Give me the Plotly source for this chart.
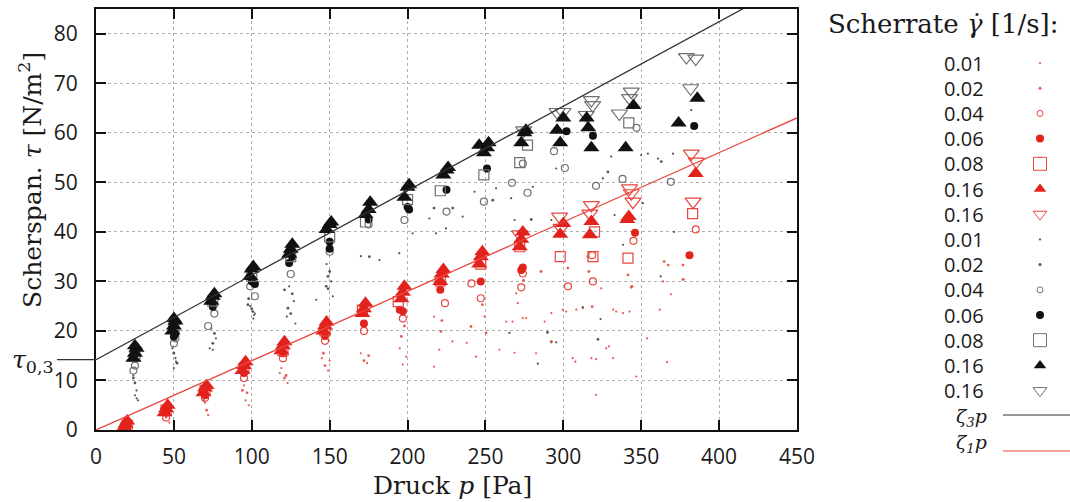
import plotly.graph_objects as go

W, H = 1070, 502
PL, PR, PT, PB = 96, 797, 9, 430          # plot box in pixels
X_MAX, Y_MAX = 450, 85

# fit lines
TAU03 = 14.2      # intercept layer 3
ZETA3 = 0.1706    # slope layer 3
ZETA1 = 0.14      # slope layer 1

x_ticks = [0, 50, 100, 150, 200, 250, 300, 350, 400, 450]
y_ticks = [0, 10, 20, 30, 40, 50, 60, 70, 80]

# ---------------- red (layer 1) ----------------
r001_x = [45, 47, 70, 72, 95, 96, 98, 118, 123, 119, 145, 149, 150, 170, 174, 197, 199, 195, 217, 220.4, 217, 228.8,
          238, 244, 249.4, 259, 263.3, 267.4, 268.7, 269.7, 270.8, 274, 276.2, 282.5, 288, 292.3, 299.7, 301.8, 306,
          307.7, 308.3, 312.5, 318, 321, 321, 324.3, 327.5, 329.3, 332, 332, 333.9, 338.3, 342.5, 346.8, 353.7, 361.9,
          364, 369, 366.6, 377.2]
r001_y = [2.5, 1.5, 5.5, 3.0, 9.0, 6.0, 5.0, 11.5, 9.5, 12.5, 14.5, 12.0, 14.0, 15.5, 13.5, 13.2, 14.8, 16.5, 22.9, 16.2,
          12.8, 17.9, 17.6, 14.8, 22.9, 16.2, 21.9, 21.9, 15.6, 27.6, 25.6, 22.6, 22.6, 15.5, 21.9, 23.6, 24.3, 23.9,
          14.5, 13.8, 24.3, 24.6, 14.5, 14.3, 7.1, 28.6, 16.5, 16.9, 14.5, 24.3, 23.9, 23.6, 23.9, 10.8, 18.5, 24.3,
          30.0, 27.4, 13.7, 30.4]
r002_x = [46, 69, 71, 94, 97, 121, 122, 146, 147, 172, 175, 196, 198, 222, 221.5, 240.7, 248, 250.4, 274.4, 285.7,
          292.3, 302.9, 315.7, 316.4, 318.5, 341.5, 344, 343.6, 364.7, 367.3, 376.8, 376.8]
r002_y = [3.0, 6.0, 4.0, 8.0, 7.5, 10.5, 11.0, 15.5, 13.0, 14.0, 15.0, 18.9, 21.0, 22.1, 19.9, 20.9, 25.3, 19.6, 30.2,
          32.0, 17.9, 32.7, 35.0, 32.0, 24.9, 31.3, 29.0, 28.8, 34.0, 33.3, 33.3, 30.4]
r004_x = [45, 70, 95, 120, 147, 172, 197, 224, 241, 247, 273, 274, 303, 319, 318.5, 345, 385]
r004_y = [2.5, 6.5, 10.5, 14.5, 18.0, 20.0, 22.5, 25.6, 29.6, 26.6, 28.8, 31.6, 29.0, 30.0, 35.3, 38.2, 40.5]
r006_x = [20, 45, 70, 95, 120, 147, 172, 195, 197, 221, 247, 273, 274, 346, 381]
r006_y = [0.5, 3.5, 7.0, 11.5, 15.5, 19.0, 21.5, 24.3, 24.0, 28.3, 30.0, 32.3, 32.8, 39.8, 35.3]
r008_x = [20, 45, 70, 95, 120, 147, 171, 194, 221, 247, 272, 298, 319, 320, 341.5, 383]
r008_y = [1.0, 4.0, 8.0, 12.5, 16.0, 20.0, 24.2, 25.9, 30.1, 33.5, 37.0, 35.0, 35.0, 40.0, 34.7, 43.7]
r016a_x = [18, 19, 20, 44, 45, 46, 69, 70, 71, 94, 95, 96, 119, 120, 121, 146, 147, 148, 171, 172, 173, 196, 197, 198,
           221, 222, 223, 246, 247, 248, 272, 273, 274, 298, 300, 317, 318, 341, 342, 385]
r016a_y = [0.5, 1.2, 1.8, 3.5, 4.3, 5.0, 7.5, 8.5, 9.0, 12.0, 13.0, 13.8, 16.0, 17.0, 17.8, 20.0, 21.0, 21.8, 23.5, 24.5,
           25.6, 26.5, 27.8, 29.0, 30.0, 31.5, 32.4, 33.5, 35.0, 36.0, 37.0, 38.5, 40.0, 39.5, 41.7, 39.4, 42.1, 42.5,
           43.1, 51.8]
r016b_x = [272, 297.6, 298.6, 317, 318, 342.5, 343.6, 344.7, 382.1, 385.4, 383.3]
r016b_y = [39.5, 43.1, 40.8, 43.7, 45.4, 48.8, 47.8, 46.1, 55.8, 54.2, 46.1]

# ---------------- black (layer 3) ----------------
b001_x = [24, 26, 27, 25, 26.1, 49, 51, 50, 51.4, 74, 77, 73, 75, 99, 102, 101, 101.5, 124, 127, 128, 122.5, 148, 151,
          152, 141.4, 170, 182, 194.7, 203.3, 218.3, 214, 224.7, 235.4, 243, 256.8, 266.5, 268.7, 280.4, 292.3, 295.4,
          330.7, 325.4, 332.9, 350, 354.3, 360.8, 370.4, 382.1, 351, 371, 265.4, 283.6, 292.3, 295.4, 323.9, 312.5,
          362.5, 338.3]
b001_y = [11.0, 8.0, 6.0, 7.0, 6.4, 16.5, 14.5, 12.5, 13.8, 20.5, 18.5, 16.5, 16.2, 25.0, 23.5, 22.5, 23.2, 29.0, 26.0,
          21.5, 22.9, 33.5, 30.0, 27.0, 26.3, 35.1, 34.3, 35.7, 39.7, 39.7, 42.7, 40.7, 43.1, 48.1, 48.8, 46.8, 42.4,
          49.1, 42.4, 52.8, 55.2, 50.8, 43.4, 55.5, 55.8, 54.8, 55.8, 64.6, 45.8, 40.0, 19.6, 13.4, 17.7, 17.7, 22.4,
          24.8, 31.0, 37.4]
b002_x = [25, 24, 50, 52, 76, 75, 100, 98, 97.5, 100.7, 126, 125, 121, 123.2, 150, 149, 147.8, 148.9, 175.5, 217, 229,
          254.7, 279.4, 328.6, 362.9, 289.8, 322.2]
b002_y = [9.5, 10.5, 15.5, 13.5, 19.5, 17.5, 24.5, 26.5, 25.3, 23.9, 27.5, 23.5, 28.3, 24.6, 32.0, 28.5, 29.0, 31.0,
          35.0, 44.8, 44.8, 46.4, 42.5, 52.1, 54.2, 19.7, 18.3]
b004_x = [24, 25, 50, 51, 72, 76, 99, 102, 125, 150, 175, 198, 225, 249, 267, 274, 277, 294, 301, 321, 338, 347, 369]
b004_y = [12.0, 13.0, 17.5, 18.5, 21.0, 23.5, 29.0, 27.0, 31.5, 36.0, 41.5, 42.4, 44.1, 46.1, 49.9, 53.8, 47.9, 56.3,
          52.9, 49.3, 50.7, 61.0, 50.1]
b006_x = [25, 50, 51, 75, 100, 102, 124, 126, 150, 150, 175, 200, 201, 225, 251, 302, 319, 384]
b006_y = [15.5, 18.9, 19.5, 24.9, 30.0, 29.5, 33.7, 35.0, 38.0, 36.6, 42.5, 45.0, 44.5, 48.5, 52.8, 60.3, 59.4, 61.4]
b008_x = [25, 50, 75, 100, 125, 150, 173, 200, 221, 249, 272, 277, 342]
b008_y = [15.0, 20.5, 26.0, 31.0, 35.0, 39.0, 42.0, 46.5, 48.3, 51.5, 54.0, 57.5, 62.0]
b016a_x = [24, 25, 26, 25, 49, 50, 51, 50, 74, 75, 76, 99, 100, 101, 124, 125, 126, 148, 150, 151, 173, 175, 176, 198,
           200, 201, 223, 225, 226, 246, 249, 251, 252, 273, 275, 276, 296, 298, 300, 315, 316, 318, 340, 345, 374, 386]
b016a_y = [14.5, 15.5, 16.5, 17.0, 20.0, 21.0, 22.0, 22.5, 26.0, 27.0, 27.5, 31.0, 32.5, 33.0, 35.5, 36.5, 37.5, 40.5,
           41.5, 42.0, 43.5, 44.5, 46.0, 47.0, 49.0, 49.5, 51.5, 52.5, 53.0, 57.5, 56.0, 57.0, 58.0, 58.0, 60.0, 60.5,
           60.5, 58.0, 63.0, 63.0, 61.0, 57.0, 57.0, 65.5, 62.0, 67.0]
b016b_x = [274.6, 296, 299.7, 314.7, 318, 318.8, 336, 342.5, 343.6, 379, 385, 381.7]
b016b_y = [60.5, 64.2, 64.2, 63.6, 66.6, 65.6, 63.9, 67.0, 68.3, 75.3, 75.0, 69.0]

legend_labels = ["0.01", "0.02", "0.04", "0.06", "0.08", "0.16", "0.16",
                 "0.01", "0.02", "0.04", "0.06", "0.08", "0.16", "0.16"]

RED = "#e2231d"
RED_O = "#e8463e"
RED_DOT = "#ea5a52"
BLK = "#111111"
BLK_DOT = "#555555"
GRY = "#707070"

# style per scherrate kind: (symbol, data size, legend size, open?)
KIND = {
    "d1": ("circle", 2.2, 2.2, False),
    "d2": ("circle", 2.8, 3.0, False),
    "o": ("circle-open", 7, 6, True),
    "c": ("circle", 8, 8, False),
    "s": ("square-open", 10, 13, True),
    "t": ("triangle-up", 14, 11, False),
    "v": ("triangle-down-open", 14, 12, True),
}

series = [
    ("r", "d1", r001_x, r001_y), ("r", "d2", r002_x, r002_y), ("r", "o", r004_x, r004_y),
    ("r", "c", r006_x, r006_y), ("r", "s", r008_x, r008_y), ("r", "t", r016a_x, r016a_y),
    ("r", "v", r016b_x, r016b_y),
    ("b", "d1", b001_x, b001_y), ("b", "d2", b002_x, b002_y), ("b", "o", b004_x, b004_y),
    ("b", "c", b006_x, b006_y), ("b", "s", b008_x, b008_y), ("b", "t", b016a_x, b016a_y),
    ("b", "v", b016b_x, b016b_y),
]


def col(layer, kind, is_open):
    if layer == "r":
        if kind in ("d1", "d2"):
            return RED_DOT
        return RED_O if is_open else RED
    if kind in ("d1", "d2"):
        return BLK_DOT
    return GRY if is_open else BLK


fig = go.Figure()

draw_order = ["d1", "d2", "o", "c", "s", "v", "t"]
for kind in draw_order:
    for layer, k, xs, ys in series:
        if k != kind:
            continue
        sym, sz, _, op = KIND[k]
        c = col(layer, k, op)
        fig.add_trace(go.Scatter(
            x=xs, y=ys, mode="markers", showlegend=False, hoverinfo="skip",
            marker=dict(symbol=sym, size=sz, color=c, line=dict(color=c, width=1.2 if op else 0)),
        ))

# fit lines
fig.add_trace(go.Scatter(x=[0, X_MAX], y=[TAU03, TAU03 + ZETA3 * X_MAX], mode="lines",
                         line=dict(color="#333333", width=1.3), showlegend=False, hoverinfo="skip"))
fig.add_trace(go.Scatter(x=[0, X_MAX], y=[0, ZETA1 * X_MAX], mode="lines",
                         line=dict(color="#e8463e", width=1.3), showlegend=False, hoverinfo="skip"))

# ---------------- custom legend (pixel coordinates on hidden axes) ----------------
LEG_X0 = 0.76 * W
ROW0, ROWH = 63, 25.2
MARK_X, TXT_X = 1040, 986
for i, (layer, k, _, _) in enumerate(series):
    sym, _, lsz, op = KIND[k]
    c = col(layer, k, op)
    fig.add_trace(go.Scatter(
        x=[MARK_X], y=[ROW0 + i * ROWH], xaxis="x2", yaxis="y2", mode="markers",
        showlegend=False, hoverinfo="skip",
        marker=dict(symbol=sym, size=lsz, color=c, line=dict(color=c, width=1 if op else 0)),
    ))

annotations = []
for i, lab in enumerate(legend_labels):
    annotations.append(dict(x=TXT_X, y=ROW0 + i * ROWH, xref="x2", yref="y2", text=lab, showarrow=False,
                            xanchor="right", yanchor="middle",
                            font=dict(family="Open Sans", size=20, color="#1a1a1a")))

fit_rows = [("<i>ζ</i><sub><i>3</i></sub><i>p</i>", 417, 415, "#333333"),
            ("<i>ζ</i><sub><i>1</i></sub><i>p</i>", 443, 451, "#e8463e")]
shapes = []
for txt, ty, ly, c in fit_rows:
    annotations.append(dict(x=TXT_X + 3, y=ty, xref="x2", yref="y2", text=txt, showarrow=False,
                            xanchor="right", yanchor="middle",
                            font=dict(family="DejaVu Serif", size=19, color="#1a1a1a")))
    shapes.append(dict(type="line", xref="x2", yref="y2", x0=1003, x1=1070, y0=ly, y1=ly,
                       line=dict(color=c, width=1.2)))

annotations.append(dict(x=943, y=24, xref="x2", yref="y2", text="Scherrate <i>γ̇</i> [1/s]:", showarrow=False,
                        xanchor="center", yanchor="middle",
                        font=dict(family="DejaVu Serif", size=26, color="#1a1a1a")))

# axis titles
annotations.append(dict(x=452 / W, y=1 - 485 / H, xref="paper", yref="paper", text="Druck <i>p</i> [Pa]",
                        showarrow=False, xanchor="center", yanchor="middle",
                        font=dict(family="DejaVu Serif", size=25, color="#1a1a1a")))
annotations.append(dict(x=30 / W, y=1 - 180 / H, xref="paper", yref="paper",
                        text="Scherspan. <i>τ</i> [N/m<sup>2</sup>]", showarrow=False, textangle=-90,
                        xanchor="center", yanchor="middle",
                        font=dict(family="DejaVu Serif", size=25, color="#1a1a1a")))
annotations.append(dict(x=33 / W, y=TAU03 - 0.2, xref="paper", yref="y",
                        text="<i>τ</i><sub>0,3</sub>", showarrow=False,
                        xanchor="center", yanchor="middle",
                        font=dict(family="DejaVu Serif", size=25, color="#1a1a1a")))
shapes.append(dict(type="line", xref="paper", yref="y", x0=57 / W, x1=PL / W, y0=TAU03, y1=TAU03,
                   line=dict(color="#333333", width=1.2)))

axis_common = dict(
    showline=True, linewidth=2, linecolor="#111111", mirror="allticks",
    ticks="inside", ticklen=10, tickwidth=2, tickcolor="#111111",
    showgrid=True, gridcolor="#b0b0b0", griddash="dot", gridwidth=1,
    zeroline=False, tickfont=dict(family="Open Sans", size=21, color="#1a1a1a"),
    automargin=False,
)

fig.update_layout(
    width=W, height=H, autosize=False, margin=dict(l=0, r=0, t=0, b=0),
    paper_bgcolor="white", plot_bgcolor="rgba(0,0,0,0)",
    xaxis=dict(domain=[PL / W, PR / W], range=[0, X_MAX], tickvals=x_ticks, ticklabelstandoff=7,
               **axis_common),
    yaxis=dict(domain=[1 - PB / H, 1 - PT / H], range=[0, Y_MAX], tickvals=y_ticks, ticklabelstandoff=12,
               **axis_common),
    xaxis2=dict(domain=[LEG_X0 / W, 1], range=[LEG_X0, W], visible=False, fixedrange=True),
    yaxis2=dict(domain=[0, 1], range=[H, 0], visible=False, fixedrange=True, anchor="x2"),
    annotations=annotations, shapes=shapes, showlegend=False,
)

fig.write_html("out.html")
